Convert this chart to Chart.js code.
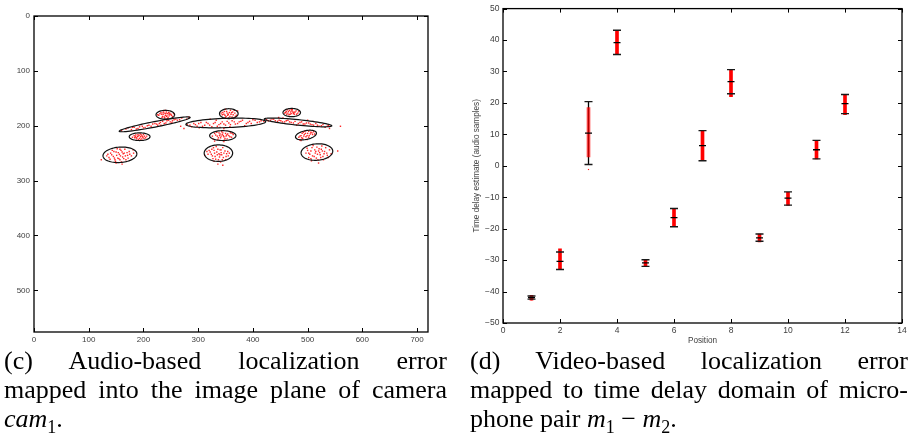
<!DOCTYPE html>
<html>
<head>
<meta charset="utf-8">
<script src="https://cdn.jsdelivr.net/npm/chart.js@4.4.0/dist/chart.umd.min.js"></script>
<style>
  body { margin: 0; background: #fff; width: 910px; height: 444px; position: relative; overflow: hidden; }
  canvas { position: absolute; top: 0; }
  .cap { position: absolute; font-family: "Liberation Serif", "Times New Roman", serif; font-size: 26px; line-height: 29px; color: #000; }
  .cap div { white-space: nowrap; }
  .cap .just { text-align: justify; text-align-last: justify; white-space: normal; }
  .cap sub { font-size: 18px; line-height: 0; }
</style>
</head>
<body>
<canvas id="audioChart" width="450" height="350" style="left:0"></canvas>
<canvas id="videoChart" width="450" height="350" style="left:460px"></canvas>

<div class="cap" style="left:4px; top:346px; width:443px">
  <div class="just">(c) Audio-based localization error</div>
  <div class="just">mapped into the image plane of camera</div>
  <div><i>cam</i><sub>1</sub>.</div>
</div>
<div class="cap" style="left:470px; top:346px; width:438px">
  <div class="just">(d) Video-based localization error</div>
  <div class="just">mapped to time delay domain of micro-</div>
  <div>phone pair <i>m</i><sub>1</sub> &minus; <i>m</i><sub>2</sub>.</div>
</div>

<script>
// Panneau (c) : axes de l'image caméra (720 x 576)
const imageXTicks = [0, 100, 200, 300, 400, 500, 600, 700];
const imageYTicks = [0, 100, 200, 300, 400, 500];

// Ellipses d'erreur (centre, demi-axes, angle en degrés)
const ellipseX = [240, 220.5, 193, 157, 356, 350.5, 345, 337, 471, 482.5, 497, 517];
const ellipseY = [180, 197.5, 220, 253, 178, 195, 218, 250, 176, 194, 217, 248];
const ellipseA = [17, 66, 19, 31, 17, 73, 24, 26, 16, 62, 19.5, 29];
const ellipseB = [8, 5, 7, 14, 9, 8.5, 9, 15, 7.5, 5, 8, 15];
const ellipseAngle = [0, -11, 0, -4, 0, -2, 0, 0, 0, 5.8, -12, -4];

// Échantillons audio projetés dans l'image
const samples1 = [[232,176],[236,179],[240,181],[244,178],[247,182],[238,184],[242,175],[250,179],[228,181],[235,183],[245,185],[241,178],[253,183],[237,173],[246,176],[233,179],[239,186],[243,182],
    [230,178],[234,185],[248,177],[251,181],[239,177],[244,187],[236,176],[242,183],[247,179],[255,178],[226,180],[240,172]];
const samples2 = [[168,206],[178,207],[183,203],[190,205],[198,201],[203,203],[210,199],[214,201],[221,196],[226,199],[231,194],[238,196],[243,191],[249,193],[256,189],[262,190],[270,186],[279,188],[160,209],[196,198],[232,199],[252,194],[274,205],
    [172,204],[180,203],[187,206],[193,202],[200,204],[207,200],[217,197],[224,197],[229,196],[235,192],[241,195],[246,190],[253,191],[259,188],[266,189],[283,184]];
const samples3 = [[183,218],[187,222],[190,219],[193,223],[196,217],[199,221],[202,219],[186,217],[191,225],[197,224],[204,222],[180,221],[194,215],[200,216],[189,220],[195,220],
    [185,220],[188,224],[192,218],[198,219],[201,223],[184,222],[195,226],[206,219],[190,216]];
const samples4 = [[140,250],[145,256],[150,248],[153,259],[156,252],[159,245],[162,257],[165,250],[168,262],[171,254],[148,262],[137,258],[174,247],[160,266],[152,242],[166,243],[143,245],[178,255],[135,252],[158,255],[163,251],[155,260],[123,262],[182,250],[150,268],
    [142,253],[147,259],[151,254],[154,249],[157,262],[161,248],[164,260],[167,255],[170,249],[146,247],[172,259],[139,261],[157,243],[175,252],[149,265],[133,255],[181,244],[161,270]];
const samples5 = [[345,176],[349,181],[352,174],[355,179],[358,183],[361,176],[364,180],[367,177],[350,185],[359,172],[347,179],[362,184],[370,181],[353,177],[357,176],[366,172],
    [344,180],[348,174],[351,183],[354,181],[360,179],[363,175],[368,183],[356,186],[342,177],[372,173],[350,170]];
const samples6 = [[285,199],[292,196],[298,201],[305,194],[312,199],[318,196],[325,202],[331,194],[338,198],[344,193],[350,199],[356,195],[362,191],[368,197],[375,193],[381,190],[388,196],[394,192],[400,189],[408,194],[415,191],[322,188],[340,203],[365,187],[385,200],[302,204],[268,201],[358,202],
    [288,202],[295,198],[301,196],[308,201],[315,194],[321,199],[328,196],[335,201],[341,196],[347,197],[353,192],[359,198],[366,193],[372,196],[378,192],[391,194],[397,196],[404,190],[412,193],[280,198],[333,190],[347,205]];
const samples7 = [[330,214],[335,219],[338,213],[341,222],[344,216],[347,220],[350,214],[353,224],[356,218],[359,213],[336,225],[343,211],[348,226],[361,221],[326,219],[346,218],[352,217],[339,218],[330,228],[364,216],
    [332,217],[337,222],[340,215],[345,213],[349,223],[351,219],[354,215],[358,220],[342,219],[334,212],[362,214],[347,229],[327,224]];
const samples8 = [[320,245],[324,252],[328,240],[331,256],[334,248],[337,262],[340,244],[343,253],[346,258],[349,246],[352,251],[327,260],[333,238],[341,266],[355,255],[318,252],[338,251],[345,240],[330,250],[342,249],[350,262],[312,254],[336,270],
    [322,248],[326,255],[329,245],[332,261],[335,253],[339,257],[342,244],[344,262],[347,250],[351,256],[354,247],[325,243],[336,243],[340,253],[357,250],[316,247],[329,265],[345,272]];
const samples9 = [[461,174],[464,177],[467,172],[470,178],[473,175],[476,179],[479,173],[466,180],[472,171],[482,177],[458,177],[469,175],[475,176],[463,171],
    [460,176],[465,174],[468,179],[471,173],[474,178],[477,175],[480,179],[462,179],[470,170],[484,174]];
const samples10 = [[425,189],[432,190],[438,188],[445,192],[451,191],[458,193],[464,190],[470,194],[477,192],[483,196],[489,193],[495,197],[502,195],[508,198],[515,196],[521,201],[528,198],[536,201],[455,186],[480,199],[500,190],[540,205],[560,201],[420,192],
    [428,191],[435,188],[441,191],[448,190],[454,193],[461,191],[467,193],[474,195],[486,194],[492,197],[498,195],[505,197],[511,199],[518,199],[525,200],[532,203],[538,200],[447,185],[510,192]];
const samples11 = [[484,221],[488,218],[491,223],[494,216],[497,220],[500,214],[503,218],[506,212],[509,216],[490,214],[499,225],[495,210],[486,226],[511,211],
    [486,219],[489,222],[493,219],[496,214],[499,218],[502,221],[505,215],[508,213],[492,212],[502,210],[488,227],[513,215]];
const samples12 = [[500,245],[504,252],[508,240],[512,256],[515,247],[518,252],[521,242],[524,258],[527,246],[530,251],[533,240],[506,260],[536,254],[510,236],[519,262],[526,237],[497,250],[514,250],[522,249],[540,244],[555,246],[502,258],
    [502,250],[506,246],[509,255],[513,244],[516,259],[520,246],[523,253],[525,243],[528,256],[531,247],[535,250],[538,258],[507,264],[517,239],[529,262],[499,241],[543,251],[520,268]];
const audioClusters = [samples1, samples2, samples3, samples4, samples5, samples6,
                       samples7, samples8, samples9, samples10, samples11, samples12];

// Panneau (d) : estimation du retard par position
const positions = [1, 2, 3, 4, 5, 6, 7, 8, 9, 10, 11, 12];
const delayMean = [-41.9, -30.4, 10.4, 39.2, -30.9, -16.5, 6.4, 26.8, -22.9, -10.3, 5.1, 19.8];
const delayLow = [-42.4, -33.0, 0.4, 35.4, -32.0, -19.4, 1.6, 22.9, -24.0, -12.5, 2.2, 16.6];
const delayHigh = [-41.4, -27.4, 20.4, 43.1, -29.9, -13.6, 11.2, 30.6, -21.7, -8.3, 8.1, 22.7];
const sampleMin = [-42.7, -33.0, 2.8, 35.5, -32.0, -19.4, 1.6, 22.0, -24.2, -12.6, 2.2, 16.3];
const sampleMax = [-41.2, -26.4, 18.5, 42.8, -29.8, -13.6, 11.0, 30.5, -21.7, -8.4, 8.0, 22.6];
const outlierX = [3, 1];
const outlierY = [-1.2, -42.0];
const delayXTicks = [0, 2, 4, 6, 8, 10, 12, 14];
const delayYTicks = [-50, -40, -30, -20, -10, 0, 10, 20, 30, 40, 50];

const tickFont = { family: 'Liberation Sans, Arial, sans-serif', size: 8 };
const tickColor = '#404040';

function fixedTicks(values) {
    return function(scale) {
        scale.ticks = values.map(v => ({ value: v }));
    };
}

function minusLabel(v) {
    return v < 0 ? '\u2212' + Math.abs(v) : String(v);
}

// Cadre façon MATLAB avec graduations vers l'intérieur
const matlabBox = {
    id: 'matlabBox',
    afterDraw(chart) {
        const { ctx, chartArea: a, scales: { x, y } } = chart;
        ctx.save();
        ctx.strokeStyle = '#000';
        ctx.lineWidth = 1.3;
        ctx.strokeRect(a.left, a.top, a.width, a.height);
        ctx.lineWidth = 1;
        ctx.beginPath();
        x.ticks.forEach(t => {
            const px = Math.round(x.getPixelForValue(t.value)) + 0.5;
            ctx.moveTo(px, a.bottom); ctx.lineTo(px, a.bottom - 4);
            ctx.moveTo(px, a.top); ctx.lineTo(px, a.top + 4);
        });
        y.ticks.forEach(t => {
            const py = Math.round(y.getPixelForValue(t.value)) + 0.5;
            ctx.moveTo(a.left, py); ctx.lineTo(a.left + 4, py);
            ctx.moveTo(a.right, py); ctx.lineTo(a.right - 4, py);
        });
        ctx.stroke();
        ctx.restore();
    }
};

// Ellipses tracées dans le repère des données
const ellipsePlugin = {
    id: 'ellipses',
    afterDatasetsDraw(chart) {
        const { ctx, scales: { x, y } } = chart;
        ctx.save();
        ctx.strokeStyle = '#111';
        ctx.lineWidth = 1.2;
        ellipseX.forEach((cx, i) => {
            const rot = ellipseAngle[i] * Math.PI / 180;
            ctx.beginPath();
            for (let k = 0; k <= 72; k++) {
                const t = k / 72 * 2 * Math.PI;
                const u = ellipseA[i] * Math.cos(t);
                const v = ellipseB[i] * Math.sin(t);
                const dx = cx + u * Math.cos(rot) - v * Math.sin(rot);
                const dy = ellipseY[i] + u * Math.sin(rot) + v * Math.cos(rot);
                const px = x.getPixelForValue(dx);
                const py = y.getPixelForValue(dy);
                if (k === 0) ctx.moveTo(px, py); else ctx.lineTo(px, py);
            }
            ctx.closePath();
            ctx.stroke();
        });
        ctx.restore();
    }
};

// Barres d'erreur : tige sous les échantillons, chapeaux au-dessus
const errorBars = {
    id: 'errorBars',
    beforeDatasetsDraw(chart) {
        const { ctx, scales: { x, y } } = chart;
        ctx.save();
        ctx.strokeStyle = '#000';
        ctx.lineWidth = 1.3;
        ctx.beginPath();
        positions.forEach((p, i) => {
            const px = x.getPixelForValue(p);
            ctx.moveTo(px, y.getPixelForValue(delayLow[i]));
            ctx.lineTo(px, y.getPixelForValue(delayHigh[i]));
        });
        ctx.stroke();
        ctx.restore();
    },
    afterDatasetsDraw(chart) {
        const { ctx, scales: { x, y } } = chart;
        ctx.save();
        ctx.strokeStyle = '#1a1a1a';
        ctx.lineWidth = 1.4;
        ctx.beginPath();
        positions.forEach((p, i) => {
            const px = x.getPixelForValue(p);
            [delayLow[i], delayHigh[i]].forEach(v => {
                const py = y.getPixelForValue(v);
                ctx.moveTo(px - 4, py); ctx.lineTo(px + 4, py);
            });
        });
        ctx.stroke();
        ctx.restore();
    }
};

function createAudioChart() {
    const ctx = document.getElementById('audioChart');
    new Chart(ctx, {
        type: 'scatter',
        data: {
            datasets: audioClusters.map(cluster => ({
                data: cluster.map(([x, y]) => ({ x, y })),
                pointStyle: 'rect',
                pointRadius: 1,
                backgroundColor: 'rgba(255, 0, 0, 0.85)',
                borderWidth: 0
            }))
        },
        options: {
            responsive: false,
            animation: false,
            layout: { padding: { top: 16, right: 22, left: 0, bottom: 0 } },
            plugins: { legend: { display: false }, tooltip: { enabled: false } },
            scales: {
                x: {
                    type: 'linear', min: 0, max: 720,
                    afterBuildTicks: fixedTicks(imageXTicks),
                    afterFit: s => { s.height = 18; },
                    grid: { display: false, drawTicks: false },
                    border: { display: false },
                    ticks: { font: tickFont, color: tickColor, padding: 3, maxRotation: 0 }
                },
                y: {
                    type: 'linear', min: 0, max: 576, reverse: true,
                    afterBuildTicks: fixedTicks(imageYTicks),
                    afterFit: s => { s.width = 34; },
                    grid: { display: false, drawTicks: false },
                    border: { display: false },
                    ticks: { font: tickFont, color: tickColor, padding: 4 }
                }
            }
        },
        plugins: [ellipsePlugin, matlabBox]
    });
}

function createVideoChart() {
    const ctx = document.getElementById('videoChart');
    const labelFont = { family: tickFont.family, size: 8.5 };
    new Chart(ctx, {
        type: 'scatter',
        data: {
            datasets: [{
                type: 'bar',
                data: positions.map((p, i) => ({ x: p, y: [sampleMin[i], sampleMax[i]] })),
                backgroundColor: positions.map(p => p === 3 ? 'rgba(255, 0, 0, 0.7)' : '#ff0000'),
                barThickness: 3,
                borderWidth: 0,
                order: 2
            }, {
                data: positions.map((p, i) => ({ x: p, y: delayMean[i] })),
                pointStyle: 'line',
                pointRadius: 3.5,
                borderColor: '#000',
                borderWidth: 1.3,
                order: 0
            }, {
                data: outlierX.map((p, i) => ({ x: p, y: outlierY[i] })),
                pointStyle: 'rectRot',
                pointRadius: [0.8, 2.6],
                backgroundColor: '#ff0000',
                borderWidth: 0,
                order: 1
            }]
        },
        options: {
            responsive: false,
            animation: false,
            layout: { padding: { top: 8, right: 8, left: 0, bottom: 0 } },
            plugins: { legend: { display: false }, tooltip: { enabled: false } },
            scales: {
                x: {
                    type: 'linear', min: 0, max: 14, offset: false,
                    afterBuildTicks: fixedTicks(delayXTicks),
                    afterFit: s => { s.height = 27; },
                    grid: { display: false, drawTicks: false },
                    border: { display: false },
                    ticks: { font: labelFont, color: tickColor, padding: 3, maxRotation: 0 },
                    title: { display: true, text: 'Position', font: { family: tickFont.family, size: 8.2 }, color: tickColor, padding: { top: 0, bottom: 4 } }
                },
                y: {
                    type: 'linear', min: -50, max: 50, beginAtZero: false,
                    afterBuildTicks: fixedTicks(delayYTicks),
                    afterFit: s => { s.width = 43; },
                    grid: { display: false, drawTicks: false },
                    border: { display: false },
                    ticks: { font: labelFont, color: tickColor, padding: 3.5, callback: minusLabel },
                    title: { display: true, text: 'Time delay estimate (audio samples)', font: { family: tickFont.family, size: 8.2 }, color: tickColor, padding: { top: 12, bottom: 0 } }
                }
            }
        },
        plugins: [errorBars, matlabBox]
    });
}

document.addEventListener('DOMContentLoaded', function() {
    createAudioChart();
    createVideoChart();
});
</script>
</body>
</html>
